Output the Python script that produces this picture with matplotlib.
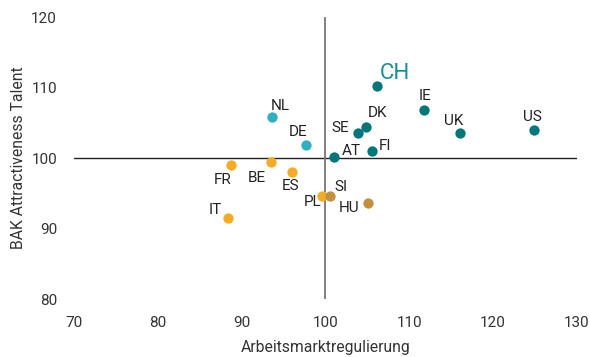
import matplotlib
matplotlib.use("Agg")
import matplotlib.pyplot as plt

# data
countries = ["CH", "IE", "UK", "US", "DK", "SE", "FI", "AT", "NL", "DE",
             "FR", "BE", "ES", "PL", "SI", "HU", "IT"]
regulierung = [106.1, 111.7, 116.0, 124.9, 104.9, 103.9, 105.5, 101.0, 93.6, 97.7,
               88.7, 93.5, 96.0, 99.6, 100.5, 105.1, 88.4]
talent = [110.3, 106.9, 103.5, 104.0, 104.4, 103.5, 101.0, 100.2, 105.8, 101.9,
          99.0, 99.4, 98.0, 94.7, 94.7, 93.7, 91.5]
groups = ["a", "a", "a", "a", "a", "a", "a", "a", "b", "b",
          "c", "c", "c", "c", "d", "d", "c"]

colors = {"a": "#00777a", "b": "#2eb0c0", "c": "#f6ab22", "d": "#c39042"}
# label offsets in points (dx, dy)
offsets = {
    "CH": (13, 9), "IE": (1, 10), "UK": (-4, 9), "US": (-1, 9),
    "DK": (8, 10), "SE": (-13, 4), "FI": (10, 4), "AT": (13, 4),
    "NL": (6, 8), "DE": (-6, 9), "FR": (-6, -11), "BE": (-10, -11),
    "ES": (-1, -10), "PL": (-7, -5), "SI": (8, 6), "HU": (-14, -4),
    "IT": (-9, 6),
}

fig = plt.figure(figsize=(5.9, 3.57), dpi=100)
ax = fig.add_axes([0.125, 0.162, 0.853, 0.79])

ax.axhline(100, color="#222222", lw=1.0, zorder=1)
ax.axvline(100, color="#777777", lw=1.3, zorder=1)

for c, x, y, g in zip(countries, regulierung, talent, groups):
    ax.scatter(x, y, s=55, color=colors[g], zorder=3, linewidths=0)
    dx, dy = offsets[c]
    if c == "CH":
        ax.annotate(c, (x, y), xytext=(dx, dy), textcoords="offset points",
                    ha="center", va="center", fontsize=16, color="#1a8f90",
                    family="Roboto")
    else:
        ax.annotate(c, (x, y), xytext=(dx, dy), textcoords="offset points",
                    ha="center", va="center", fontsize=11, color="#222222",
                    family="Roboto")

ax.set_xlim(70, 130)
ax.set_ylim(80, 120)
ax.set_xticks(range(70, 131, 10))
ax.set_yticks(range(80, 121, 10))
for s in ax.spines.values():
    s.set_visible(False)
ax.tick_params(length=0, labelsize=11, labelcolor="#333333", pad=12)
for lbl in ax.get_xticklabels() + ax.get_yticklabels():
    lbl.set_family("Roboto")

ax.set_xlabel("Arbeitsmarktregulierung", fontsize=11.3, color="#333333",
              family="Roboto", labelpad=7)
ax.set_ylabel("BAK Attractiveness Talent", fontsize=11.3, color="#333333",
              family="Roboto", labelpad=4)

fig.savefig("out.png", dpi=100)
